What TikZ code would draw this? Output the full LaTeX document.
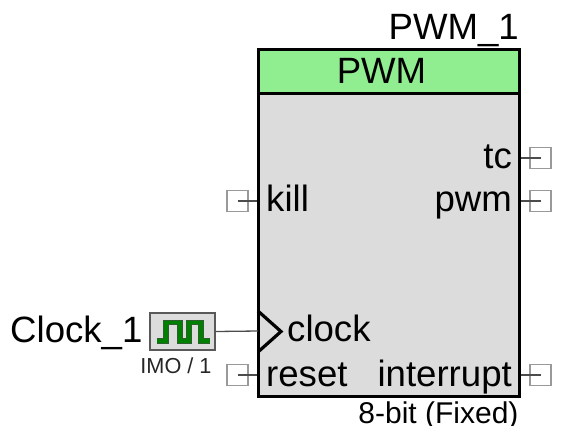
\documentclass[tikz,border=0pt]{standalone}
\usepackage{fontspec}
\setmainfont{Liberation Sans}
\definecolor{hdr}{HTML}{90EE90}
\definecolor{body}{HTML}{DCDCDC}
\definecolor{wave}{HTML}{008000}
\definecolor{wavedark}{HTML}{2F5F2F}
\tikzset{
  pix/.style={x=1pt,y=-1pt},
  lbl/.style={inner sep=0pt,font=\fontsize{36.6}{36.6}\selectfont,text=black},
  portbox/.style={draw=black!40,line width=1.2pt,fill=white,minimum size=21pt,inner sep=0pt},
  wire/.style={draw=black!70,line width=1.3pt},
}
\begin{document}
\begin{tikzpicture}[pix]
\useasboundingbox (0,0) rectangle (575,437);
\node[portbox] (pkill) at (237.5,201) {};
\node[portbox] (preset) at (237.5,375) {};
\node[portbox] (ptc) at (540.5,158) {};
\node[portbox] (ppwm) at (540.5,201) {};
\node[portbox] (pint) at (540.5,375) {};
\fill[body] (258,49) rectangle (519,396);
\coordinate (lkill) at (258,201);
\coordinate (lreset) at (258,375);
\coordinate (rtc) at (519,158);
\coordinate (rpwm) at (519,201);
\coordinate (rint) at (519,375);
\coordinate (lclk) at (258,331);
\draw[wire] (pkill.center) -- (lkill);
\draw[wire] (preset.center) -- (lreset);
\draw[wire] (ptc.center) -- (rtc);
\draw[wire] (ppwm.center) -- (rpwm);
\draw[wire] (pint.center) -- (rint);
\fill[hdr] (258,49) rectangle (519,93);
\draw[black,line width=3pt] (258,49) rectangle (519,396);
\draw[black,line width=3pt] (258,93) -- (519,93);
\draw[black,line width=3.2pt,line join=miter] (258,311) -- (281,331.5) -- (258,352);
\node[lbl,anchor=base east] (title) at (519,39) {PWM\_1};
\node[lbl,anchor=base] (pwm) at (381.5,83) {PWM};
\node[lbl,anchor=base east] (tc) at (512,168) {tc};
\node[lbl,anchor=base east] (pw) at (512,211) {pwm};
\node[lbl,anchor=base west] (kill) at (266,211) {kill};
\node[lbl,anchor=base west] (clock) at (287,341) {clock};
\node[lbl,anchor=base west] (reset) at (266,386) {reset};
\node[lbl,anchor=base east] (intr) at (512,386) {interrupt};
\begin{scope}
\clip (300,398) rectangle (575,425);
\node[inner sep=0pt,font=\fontsize{30}{30}\selectfont,text=black,anchor=base] (bits) at (438.5,423) {8-bit (Fixed)};
\end{scope}
\node[lbl,anchor=base west] (clk) at (10,342) {Clock\_1};
\node[draw=black!65,fill=body,line width=1.2pt,minimum width=65pt,minimum height=37pt,inner sep=0pt] (cb) at (182.5,331.5) {};
\draw[wavedark,line width=5.4pt,line join=miter] (157,341) -- (166,341) -- (166,322.5) -- (180,322.5) -- (180,341) -- (189,341) -- (189,322.5) -- (201,322.5) -- (201,341) -- (210,341);
\draw[wave,line width=3.2pt,line join=miter] (157,341) -- (166,341) -- (166,322.5) -- (180,322.5) -- (180,341) -- (189,341) -- (189,322.5) -- (201,322.5) -- (201,341) -- (210,341);
\draw[wire] (cb.east) -- (lclk);
\node[inner sep=0pt,font=\fontsize{21.7}{21.7}\selectfont,text=black!85,anchor=base] (imo) at (176,373) {IMO / 1};
\end{tikzpicture}
\end{document}
